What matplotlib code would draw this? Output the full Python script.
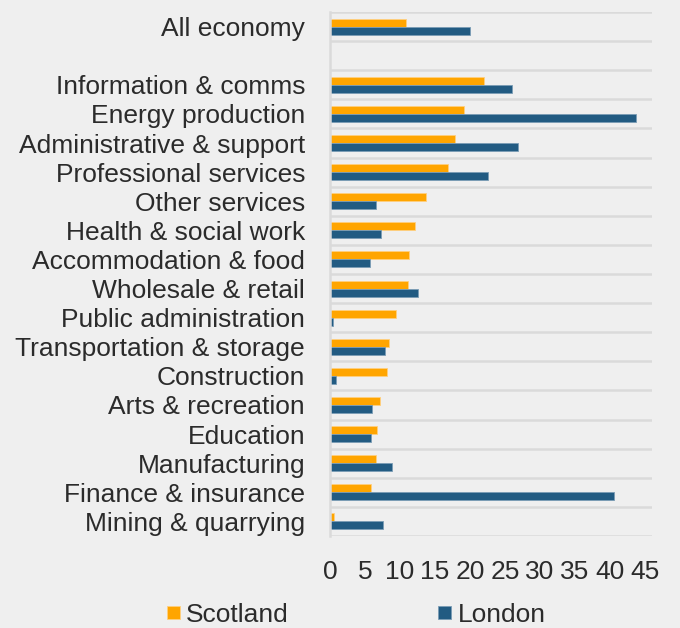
import matplotlib
matplotlib.use("Agg")
import matplotlib.pyplot as plt
import numpy as np

categories = ["All economy", "", "Information & comms", "Energy production",
              "Administrative & support", "Professional services", "Other services",
              "Health & social work", "Accommodation & food", "Wholesale & retail",
              "Public administration", "Transportation & storage", "Construction",
              "Arts & recreation", "Education", "Manufacturing", "Finance & insurance",
              "Mining & quarrying"]
scotland = [10.9, np.nan, 22.0, 19.2, 17.8, 16.8, 13.7, 12.1, 11.3, 11.2, 9.4, 8.4,
            8.1, 7.1, 6.7, 6.6, 5.9, 0.5]
london = [20.0, np.nan, 26.0, 43.7, 26.8, 22.6, 6.6, 7.3, 5.7, 12.6, 0.4, 7.8,
          0.8, 6.0, 5.9, 8.9, 40.6, 7.5]
xticks = [0, 5, 10, 15, 20, 25, 30, 35, 40, 45]

plt.rcParams['font.family'] = ['Liberation Sans', 'DejaVu Sans']
bg = "#EFEFEF"
text_c = "#2B2B2B"
c_sc = "#FFA500"
c_ld = "#225B82"
fs = 19

fig = plt.figure(figsize=(6.8, 6.28), dpi=100, facecolor=bg)
ax = fig.add_axes([330/680, 1 - 536/628, (652-330)/680, (536-12)/628])
ax.set_facecolor(bg)

n = len(categories)
y = np.arange(n)
h = 0.275
ax.barh(y - h/2, scotland, height=h, color=c_sc, edgecolor="#FFD080", linewidth=0.6, label="Scotland")
ax.barh(y + h/2, london, height=h, color=c_ld, edgecolor="#7A9CB5", linewidth=0.6, label="London")

ax.set_ylim(n - 0.5, -0.5)
ax.set_xlim(0, 46)
for b in np.arange(-0.5, n, 1.0):
    ax.axhline(b, color="#DADADA", lw=1.8, zorder=0)

ax.set_yticks(y)
ax.set_yticklabels(categories, fontsize=fs, color=text_c)
ax.set_xticks(xticks)
ax.set_xticklabels([str(t) for t in xticks], fontsize=fs, color=text_c)
ax.tick_params(axis='both', length=0)
ax.tick_params(axis='y', pad=18)
ax.tick_params(axis='x', pad=17)
for s in ["top", "right", "bottom"]:
    ax.spines[s].set_visible(False)
ax.spines["left"].set_color("#DADADA")
ax.spines["left"].set_linewidth(1.8)

leg = fig.legend(loc="center left", bbox_to_anchor=(167/680, 1 - 615/628), ncol=2, frameon=False,
                 fontsize=fs, handlelength=0.49, handleheight=0.42, handletextpad=0.23,
                 columnspacing=5.67, labelcolor=text_c, borderpad=0, borderaxespad=0)

fig.savefig("out.png", dpi=100, facecolor=bg)
